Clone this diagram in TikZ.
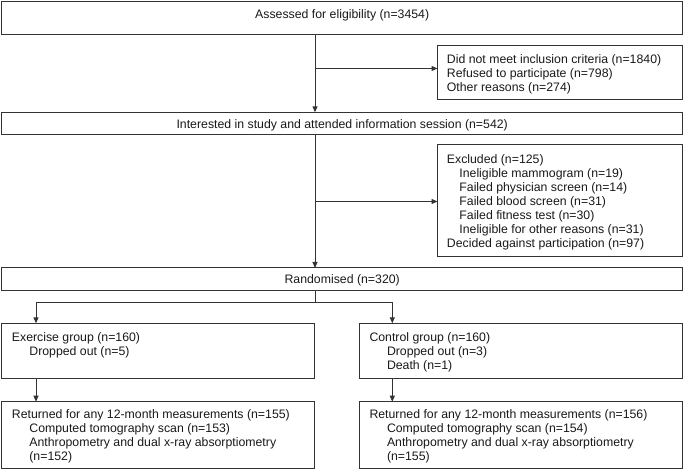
\documentclass[tikz,border=0pt]{standalone}
\usepackage{fontspec}
\setmainfont{Liberation Sans}
\usetikzlibrary{arrows.meta}
\begin{document}
\begin{tikzpicture}[x=1pt,y=-1pt,
  box/.style={draw=black!80, line width=1pt, rectangle, inner sep=0pt, outer sep=0pt, anchor=north west},
  txt/.style={inner sep=0pt, anchor=base west, font=\fontsize{12.3}{14}\selectfont, text=black!90},
  ctxt/.style={txt, anchor=base},
  arr/.style={draw=black!80, line width=1pt, -{Triangle[length=6pt,width=5pt]}},
  ln/.style={draw=black!80, line width=1pt}]
\useasboundingbox (0,0) rectangle (685,470);
% boxes
\node[box, minimum width=681, minimum height=32.6] (b1) at (1.7,1.7) {};
\node[box, minimum width=245.2, minimum height=54.5] (s1) at (437.5,45.5) {};
\node[box, minimum width=681, minimum height=22.7] (b2) at (1.7,112.3) {};
\node[box, minimum width=245.2, minimum height=112] (s2) at (437.5,145) {};
\node[box, minimum width=681, minimum height=22.5] (b3) at (1.7,268) {};
\node[box, minimum width=312.6, minimum height=55.5] (eg) at (1.7,323.3) {};
\node[box, minimum width=323.7, minimum height=55.5] (cg) at (359,323.3) {};
\node[box, minimum width=312.6, minimum height=67] (er) at (1.7,401.7) {};
\node[box, minimum width=323.7, minimum height=67] (cr) at (359,401.7) {};
% texts
\node[ctxt] (t1) at (342.2,18.9) {Assessed for eligibility (n=3454)};
\node[txt] (ts1) at (446.7,63.4) {\begin{tabular}[t]{@{}l@{}}Did not meet inclusion criteria (n=1840)\\Refused to participate (n=798)\\Other reasons (n=274)\end{tabular}};
\node[ctxt] (t2) at (342.2,128.9) {Interested in study and attended information session (n=542)};
\node[txt] (ts2) at (446.7,163.4) {\begin{tabular}[t]{@{}l@{}}Excluded (n=125)\\\hspace*{12.5pt}Ineligible mammogram (n=19)\\\hspace*{12.5pt}Failed physician screen (n=14)\\\hspace*{12.5pt}Failed blood screen (n=31)\\\hspace*{12.5pt}Failed fitness test (n=30)\\\hspace*{12.5pt}Ineligible for other reasons (n=31)\\Decided against participation (n=97)\end{tabular}};
\node[ctxt] (t3) at (342.2,283.4) {Randomised (n=320)};
\node[txt] (teg) at (11.7,341.4) {\begin{tabular}[t]{@{}l@{}}Exercise group (n=160)\\\hspace*{17.5pt}Dropped out (n=5)\end{tabular}};
\node[txt] (tcg) at (369.3,341.4) {\begin{tabular}[t]{@{}l@{}}Control group (n=160)\\\hspace*{17.5pt}Dropped out (n=3)\\\hspace*{17.5pt}Death (n=1)\end{tabular}};
\node[txt] (ter) at (11.7,418.4) {\begin{tabular}[t]{@{}l@{}}Returned for any 12-month measurements (n=155)\\\hspace*{17.5pt}Computed tomography scan (n=153)\\\hspace*{17.5pt}Anthropometry and dual x-ray absorptiometry\\\hspace*{17.5pt}(n=152)\end{tabular}};
\node[txt] (tcr) at (369.3,418.4) {\begin{tabular}[t]{@{}l@{}}Returned for any 12-month measurements (n=156)\\\hspace*{17.5pt}Computed tomography scan (n=154)\\\hspace*{17.5pt}Anthropometry and dual x-ray absorptiometry\\\hspace*{17.5pt}(n=155)\end{tabular}};
% connectors
\coordinate (trunk) at (315,0);
\coordinate (j1) at (315,68.5);
\coordinate (j2) at (315,201.5);
\coordinate (split) at (315,302);
\coordinate (la) at (36,302);
\coordinate (ra) at (392.3,302);
\draw[arr] (b1.south -| trunk) -- (b2.north -| trunk);
\draw[arr] (j1) -- (j1 -| s1.west);
\draw[arr] (b2.south -| trunk) -- (b3.north -| trunk);
\draw[arr] (j2) -- (j2 -| s2.west);
\draw[ln] (b3.south -| split) -- (split);
\draw[arr] (split) -- (la) -- (la |- eg.north);
\draw[arr] (split) -- (ra) -- (ra |- cg.north);
\draw[arr] (eg.south -| la) -- (er.north -| la);
\draw[arr] (cg.south -| ra) -- (cr.north -| ra);
\end{tikzpicture}
\end{document}
